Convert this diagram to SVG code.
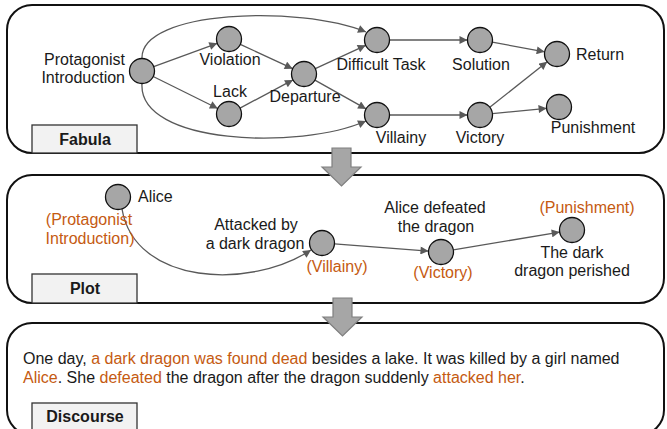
<svg xmlns="http://www.w3.org/2000/svg" width="667" height="429" viewBox="0 0 667 429">
<defs>
<marker id="ah" viewBox="0 0 10 10" refX="10" refY="5" markerWidth="9" markerHeight="8" markerUnits="userSpaceOnUse" orient="auto">
<path d="M0,0 L10,5 L0,10 z" fill="#595959"/>
</marker>
</defs>
<style>
text{font-family:"Liberation Sans",Arial,sans-serif;font-size:16px;fill:#1a1a1a}
.o{fill:#C55A11}
.b{font-weight:bold}
.m{text-anchor:middle}
.e{text-anchor:end}
.panel{fill:#fff;stroke:#111;stroke-width:2}
.lab{fill:#f2f2f2;stroke:#333;stroke-width:1.3}
.nd{fill:#a6a6a6;stroke:#111;stroke-width:1.3}
.ed{fill:none;stroke:#595959;stroke-width:1.3;marker-end:url(#ah)}
.blk{fill:#a6a6a6;stroke:#7f7f7f;stroke-width:1.2}
</style>
<rect width="667" height="429" fill="#fff"/>

<g id="fabula-panel">
<rect class="panel" x="7" y="5" width="657" height="148" rx="25"/>
<rect class="lab" x="32" y="125" width="105" height="28"/>
<text class="b m" x="85" y="145">Fabula</text>
</g>
<g id="plot-panel">
<rect class="panel" x="7" y="175" width="657" height="128" rx="25"/>
<rect class="lab" x="32" y="274" width="105" height="29"/>
<text class="b m" x="85" y="294">Plot</text>
</g>
<g id="discourse-panel">
<rect class="panel" x="7" y="323" width="657" height="112" rx="25"/>
<rect class="lab" x="32" y="403" width="105" height="32"/>
<text class="b m" x="85" y="422">Discourse</text>
</g>

<g id="connectors">
<path class="ed" d="M153.7,66.7 L217.3,43.3"/>
<path class="ed" d="M153.2,76.5 L217.8,108.5"/>
<path class="ed" d="M240.3,44.3 L292.7,68.7"/>
<path class="ed" d="M240,108.1 L293,79.9"/>
<path class="ed" d="M315.3,68.7 L365.7,45.3"/>
<path class="ed" d="M314.9,80.1 L366.1,108.9"/>
<path class="ed" d="M389.5,40 L467.5,40"/>
<path class="ed" d="M389.5,115 L467.5,115"/>
<path class="ed" d="M492.3,42.2 L544.7,51.8"/>
<path class="ed" d="M489.8,107.2 L547.2,61.8"/>
<path class="ed" d="M492.4,113.7 L546.6,108.3"/>
<path class="ed" d="M142,58.5 C140,10 300,5 366,32"/>
<path class="ed" d="M142,83.5 C138,145 300,150 366,121"/>
<path class="ed" d="M122,209 C135,285 250,290 311,250"/>
<path class="ed" d="M334.5,243.9 L428.5,251.1"/>
<path class="ed" d="M453.3,249.9 L559.7,232.1"/>
</g>

<g id="n-protagonist"><circle class="nd" cx="142" cy="71" r="12.5"/>
<text class="e" x="125" y="65">Protagonist</text><text class="e" x="125" y="83">Introduction</text></g>
<g id="n-violation"><circle class="nd" cx="229" cy="39" r="12.5"/><text class="m" x="230" y="65">Violation</text></g>
<g id="n-lack"><circle class="nd" cx="229" cy="114" r="12.5"/><text class="m" x="230" y="97">Lack</text></g>
<g id="n-departure"><circle class="nd" cx="304" cy="74" r="12.5"/><text class="m" x="305" y="102">Departure</text></g>
<g id="n-difficult"><circle class="nd" cx="377" cy="40" r="12.5"/><text class="m" x="381" y="70">Difficult Task</text></g>
<g id="n-villainy"><circle class="nd" cx="377" cy="115" r="12.5"/><text class="m" x="401" y="143">Villainy</text></g>
<g id="n-solution"><circle class="nd" cx="480" cy="40" r="12.5"/><text class="m" x="481" y="70">Solution</text></g>
<g id="n-victory"><circle class="nd" cx="480" cy="115" r="12.5"/><text class="m" x="480" y="143">Victory</text></g>
<g id="n-return"><circle class="nd" cx="557" cy="54" r="12.5"/><text x="576" y="60">Return</text></g>
<g id="n-punishment"><circle class="nd" cx="559" cy="107" r="12.5"/><text class="m" x="593" y="133">Punishment</text></g>

<g id="p-alice"><circle class="nd" cx="118" cy="197" r="12.5"/>
<text x="138" y="202">Alice</text>
<text class="o m" x="89" y="225">(Protagonist</text>
<text class="o m" x="90" y="244">Introduction)</text></g>
<g id="p-attacked"><circle class="nd" cx="322" cy="243" r="12.5"/>
<text class="m" x="256" y="230">Attacked by</text>
<text class="m" x="255" y="249">a dark dragon</text>
<text class="o m" x="337" y="272">(Villainy)</text></g>
<g id="p-victory"><circle class="nd" cx="441" cy="252" r="12.5"/>
<text class="m" x="435" y="213">Alice defeated</text>
<text class="m" x="436" y="232">the dragon</text>
<text class="o m" x="443" y="278">(Victory)</text></g>
<g id="p-punishment"><circle class="nd" cx="572" cy="230" r="12.5"/>
<text class="o m" x="587" y="213">(Punishment)</text>
<text class="m" x="572" y="258">The dark</text>
<text class="m" x="572" y="276">dragon perished</text></g>

<g id="discourse-text">
<text x="23" y="364">One day, <tspan class="o">a dark dragon was found dead</tspan> besides a lake. It was killed by a girl named</text>
<text x="23" y="383"><tspan class="o">Alice</tspan>. She <tspan class="o">defeated</tspan> the dragon after the dragon suddenly <tspan class="o">attacked her</tspan>.</text>
</g>

<g id="arrow-1"><path class="blk" d="M332,148 H351 V167 H361 L341.5,186 L322,167 H332 Z"/></g>
<g id="arrow-2"><path class="blk" d="M333,298 H352 V317 H362 L342.5,336 L323,317 H333 Z"/></g>
</svg>
